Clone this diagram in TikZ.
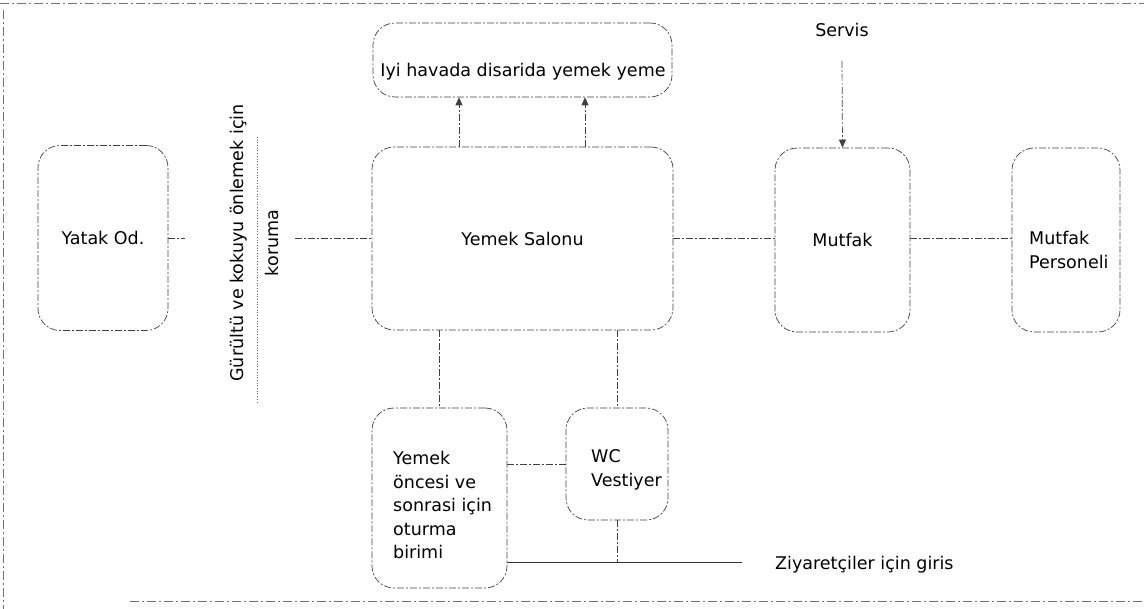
\documentclass[tikz,border=0pt]{standalone}
\usepackage{fontspec}
\setmainfont{DejaVu Sans}
\usetikzlibrary{arrows.meta}
\begin{document}
\begin{tikzpicture}[x=1pt,y=-1pt,
  font=\fontsize{17.5}{23.5}\selectfont,
  ink/.style={draw=black!75, line width=0.7pt, dash pattern=on 7pt off 2pt on 2pt off 2pt},
  room/.style={ink, rounded corners=22pt, minimum width=#1, inner sep=0pt},
  conn/.style={ink},
  tip/.style={-{Triangle[length=8pt,width=7pt]}},
  frameline/.style={draw=black!55, line width=0.6pt, dash pattern=on 9pt off 3pt on 2pt off 3pt},
  txt/.style={inner sep=0pt, align=left}
]
\useasboundingbox (0,0) rectangle (1144,609);
% frame
\draw[frameline] (0,3) -- (1144,3);
\draw[frameline] (3,10) -- (3,609);
\draw[frameline] (130,601) -- (1144,601);

% rooms
\node[room=130pt, minimum height=185pt] (yatak) at (103,238) {Yatak Od.};
\node[room=301pt, minimum height=183pt] (salon) at (522.5,238.5) {Yemek Salonu};
\node[room=135pt, minimum height=184pt] (mutfak) at (842.5,240) {Mutfak};
\node[room=108pt, minimum height=184pt] (pers) at (1066,240) {};
\node[txt, anchor=west] (perstxt) at (1029,250) {Mutfak\\Personeli};
\node[room=299pt, minimum height=74pt] (disari) at (522.5,60) {};
\node[txt] (disaritxt) at (523,72) {Iyi havada disarida yemek yeme};
\node[room=135pt, minimum height=180pt] (otur) at (439.5,498) {};
\node[txt, anchor=west] (oturtxt) at (393,505) {Yemek\\öncesi ve\\sonrasi için\\oturma\\birimi};
\node[room=102pt, minimum height=112pt] (wc) at (617,464) {};
\node[txt, anchor=west] (wctxt) at (591,470) {WC\\Vestiyer};

% free texts
\node[txt] (servis) at (842,30) {Servis};
\node[txt, anchor=west] (ziy) at (775,565) {Ziyaretçiler için giris};
\node[txt, align=center, rotate=90, font=\fontsize{17.5}{35}\selectfont] (koruma) at (254.5,243) {Gürültü ve kokuyu önlemek için\\koruma};

% coordinates
\coordinate (c1) at (185,238);
\coordinate (c2) at (295,238);
\coordinate (a1) at (459,0);
\coordinate (a2) at (585,0);
\coordinate (w1) at (257,137);
\coordinate (w2) at (257,402);
\coordinate (zend) at (742,562);

% wall line
\draw[draw=black!60, line width=0.7pt, dotted] (w1) -- (w2);

% connectors
\draw[conn] (yatak.east |- c1) -- (c1);
\draw[conn] (c2) -- (salon.west |- c2);
\draw[conn] (salon.east |- c1) -- (mutfak.west |- c1);
\draw[conn] (mutfak.east |- c1) -- (pers.west |- c1);
\draw[conn, tip] (servis.south) ++(0,24) -- (mutfak.north);
\draw[conn, tip] (salon.north -| a1) -- (disari.south -| a1);
\draw[conn, tip] (salon.north -| a2) -- (disari.south -| a2);
\draw[conn] (salon.south -| otur.north) -- (otur.north);
\draw[conn] (salon.south -| wc.north) -- (wc.north);
\draw[conn] (wc.west -| otur.east) -- (wc.west);
\draw[conn] (wc.south) -- (wc.south |- zend);
\draw[black!80, line width=0.7pt] (zend -| otur.east) -- (zend);
\end{tikzpicture}
\end{document}
